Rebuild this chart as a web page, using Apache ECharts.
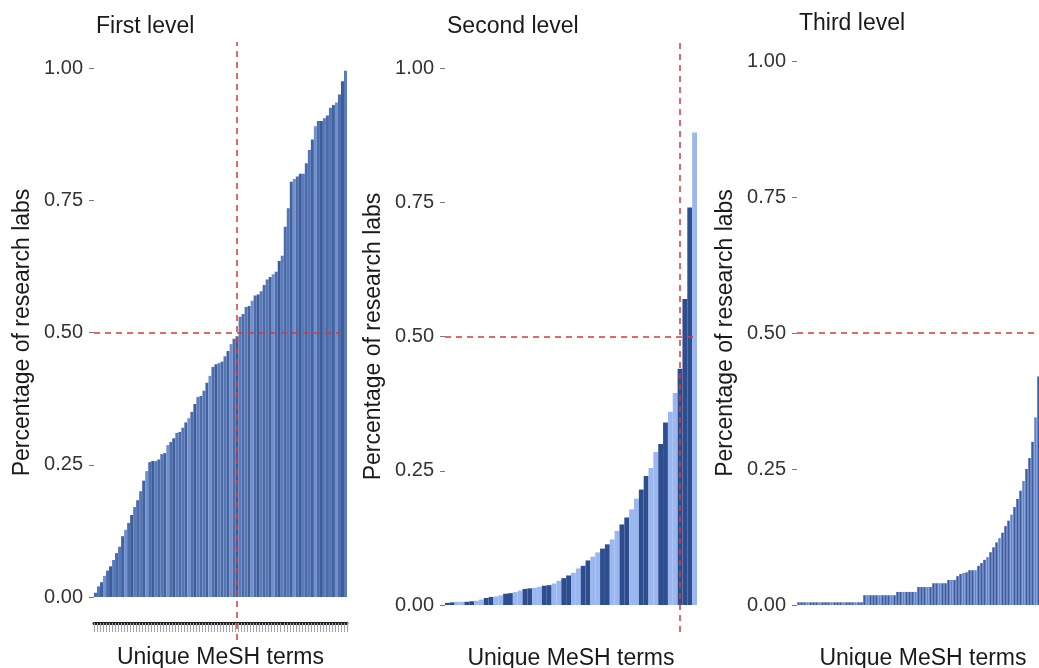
<!DOCTYPE html>
<html>
<head>
<meta charset="utf-8">
<title>MeSH terms by level</title>
<script src="https://cdn.jsdelivr.net/npm/echarts@6/dist/echarts.min.js"></script>
<style>
  html, body { margin: 0; padding: 0; background: #fff; }
  #chart { width: 1039px; height: 668px; }
</style>
</head>
<body>
<div id="chart"></div>
<script>
// share of research labs per MeSH term, terms sorted ascending
const firstLevel = [
  0.008, 0.02, 0.028, 0.04, 0.05, 0.058, 0.07, 0.083, 0.095, 0.115,
  0.127, 0.14, 0.155, 0.17, 0.183, 0.2, 0.22, 0.238, 0.255, 0.257,
  0.257, 0.26, 0.27, 0.272, 0.287, 0.293, 0.3, 0.31, 0.312, 0.32,
  0.33, 0.338, 0.35, 0.365, 0.378, 0.38, 0.39, 0.405, 0.418, 0.435,
  0.44, 0.442, 0.445, 0.455, 0.465, 0.478, 0.488, 0.493, 0.53, 0.535,
  0.548, 0.55, 0.56, 0.57, 0.572, 0.578, 0.59, 0.6, 0.605, 0.61,
  0.615, 0.635, 0.645, 0.7, 0.735, 0.785, 0.79, 0.795, 0.8, 0.8,
  0.82, 0.845, 0.865, 0.89, 0.9, 0.9, 0.905, 0.91, 0.925, 0.93,
  0.935, 0.95, 0.975, 0.995
]
const secondLevel = [
  0.004, 0.005, 0.006, 0.006, 0.006, 0.007, 0.008, 0.01, 0.013, 0.015,
  0.016, 0.018, 0.021, 0.022, 0.024, 0.027, 0.03, 0.031, 0.032, 0.034,
  0.036, 0.037, 0.04, 0.045, 0.05, 0.055, 0.06, 0.068, 0.073, 0.083,
  0.09, 0.098, 0.105, 0.113, 0.122, 0.138, 0.15, 0.163, 0.178, 0.198,
  0.215, 0.24, 0.255, 0.285, 0.3, 0.34, 0.36, 0.395, 0.44, 0.57,
  0.74, 0.88
]
const thirdLevel = [
  0.005, 0.005, 0.005, 0.005, 0.005, 0.005, 0.005, 0.005, 0.005, 0.005,
  0.005, 0.005, 0.005, 0.005, 0.005, 0.005, 0.005, 0.005, 0.005, 0.005,
  0.005, 0.005, 0.018, 0.018, 0.018, 0.018, 0.018, 0.018, 0.018, 0.018,
  0.018, 0.018, 0.018, 0.024, 0.024, 0.024, 0.024, 0.024, 0.024, 0.024,
  0.033, 0.033, 0.033, 0.033, 0.033, 0.04, 0.04, 0.04, 0.04, 0.04,
  0.046, 0.046, 0.046, 0.053, 0.057, 0.059, 0.06, 0.064, 0.064, 0.064,
  0.072, 0.077, 0.083, 0.088, 0.097, 0.106, 0.115, 0.123, 0.133, 0.145,
  0.155, 0.166, 0.18, 0.195, 0.21, 0.228, 0.25, 0.27, 0.3, 0.345,
  0.42, 0.52, 0.68, 0.9
]
const panelTitles = ['First level', 'Second level', 'Third level']
const yTicks = [0, 0.25, 0.5, 0.75, 1]
const halfShare = 0.5
// term index where the 50% share is reached (third one is off the page)
const cutoffIndex = [47, 48]

const font = 'Liberation Sans'
const red = '#d8393b'
const panels = [
  { left: 94, width: 253, top: 68, bottom: 71, lineTop: 42, lineBottom: 28 },
  { left: 445, width: 252, top: 68, bottom: 63, lineTop: 42, lineBottom: 36 },
  { left: 797, width: 252, top: 61, bottom: 63 }
]
const levels = [firstLevel, secondLevel, thirdLevel]

const shadesFirst = ['#4a6ba9', '#5576b4', '#4262a0', '#6f90cc', '#4b6dac', '#3d5d9a', '#5a7bba']
const barColor = [
  i => shadesFirst[i % shadesFirst.length],
  // dark/light stripes in pairs; the last steep bars are mostly dark
  i => (i === 51 ? '#9bb7ef' : (Math.floor(i / 2) % 2 === 0 || i > 48) ? '#2d4d8f' : '#9bb7ef'),
  i => (i % 4 === 3 ? '#5f82c9' : '#3a5ba5')
]

const ranks = arr => arr.map((_, i) => String(i + 1))

const dashed = { color: red, type: [6, 5], width: 1.5 }

const grid = []
const xAxis = []
const yAxis = []
const series = []
const title = []

panels.forEach((p, k) => {
  grid.push({ left: p.left, width: p.width, top: p.top, bottom: p.bottom, outerBoundsMode: 'none' })
  title.push({
    text: panelTitles[k],
    left: p.left + 2,
    top: k === 2 ? 12 : 15,
    padding: 0,
    textStyle: { fontFamily: font, fontSize: 23, fontWeight: 'normal', color: '#1a1a1a' }
  })
  xAxis.push({
    type: 'category',
    gridIndex: k,
    data: ranks(levels[k]),
    name: 'Unique MeSH terms',
    nameLocation: 'middle',
    nameGap: k === 0 ? 23 : 42,
    nameTextStyle: { fontFamily: font, fontSize: 23, color: '#1a1a1a' },
    offset: k === 0 ? 26 : 0,
    axisLine: k === 0
      ? { show: true, onZero: false, lineStyle: { color: '#222', width: 3 } }
      : { show: false },
    axisTick: k === 0
      ? { show: true, interval: 0, length: 9, lineStyle: { color: '#a3a3b0', width: 1 } }
      : { show: false },
    axisLabel: { show: false },
    splitLine: { show: false }
  })
  yAxis.push({
    type: 'value',
    gridIndex: k,
    min: yTicks[0],
    max: yTicks[yTicks.length - 1],
    interval: 0.25,
    name: 'Percentage of research labs',
    nameLocation: 'middle',
    nameGap: 60,
    nameTextStyle: { fontFamily: font, fontSize: 23, color: '#1a1a1a' },
    axisLine: { show: false },
    axisTick: { show: true, length: 5, lineStyle: { color: '#777' } },
    axisLabel: {
      fontFamily: font, fontSize: 20, color: '#333', margin: 11,
      formatter: v => v.toFixed(2)
    },
    splitLine: { show: false }
  })
  series.push({
    type: 'bar',
    xAxisIndex: k,
    yAxisIndex: k,
    data: levels[k],
    barCategoryGap: k === 2 ? '18%' : '0%',
    itemStyle: { color: p2 => barColor[k](p2.dataIndex) },
    silent: true,
    markLine: {
      silent: true,
      symbol: 'none',
      label: { show: false },
      lineStyle: dashed,
      data: [{ yAxis: halfShare }]
    }
  })
})

// vertical cut-off lines run past the plot, so they live on taller hidden grids
cutoffIndex.forEach((ci, k) => {
  const p = panels[k]
  const g = grid.length
  grid.push({ left: p.left, width: p.width, top: p.lineTop, bottom: p.lineBottom, outerBoundsMode: 'none' })
  xAxis.push({ type: 'category', gridIndex: g, data: ranks(levels[k]), show: false })
  yAxis.push({ type: 'value', gridIndex: g, min: 0, max: 1, show: false })
  series.push({
    type: 'line',
    xAxisIndex: g,
    yAxisIndex: g,
    data: [],
    markLine: {
      silent: true,
      symbol: 'none',
      label: { show: false },
      lineStyle: dashed,
      data: [{ xAxis: ci }]
    }
  })
})

const chart = echarts.init(document.getElementById('chart'))
chart.setOption({
  animation: false,
  backgroundColor: '#fff',
  title,
  grid,
  xAxis,
  yAxis,
  series
})
</script>
</body>
</html>
